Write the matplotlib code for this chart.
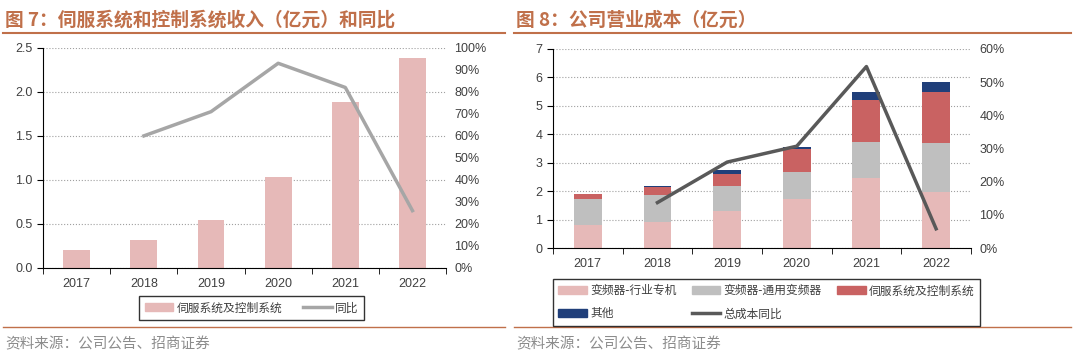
import matplotlib
matplotlib.use("Agg")
import matplotlib.pyplot as plt
from matplotlib.lines import Line2D

plt.rcParams['font.family'] = ['Liberation Sans', 'Noto Sans CJK SC', 'DejaVu Sans']

# ---- data ----
years = ['2017', '2018', '2019', '2020', '2021', '2022']

# 图7 伺服系统及控制系统收入 (亿元) and 同比
servo_rev = [0.20, 0.32, 0.54, 1.03, 1.88, 2.38]
servo_yoy = [None, 60, 71, 93, 82, 26]

# 图8 公司营业成本 (亿元)
cost_industry = [0.82, 0.90, 1.30, 1.73, 2.48, 1.98]
cost_general = [0.90, 0.98, 0.89, 0.93, 1.26, 1.71]
cost_servo = [0.19, 0.26, 0.42, 0.81, 1.47, 1.81]
cost_other = [0.0, 0.04, 0.14, 0.10, 0.28, 0.33]
cost_yoy = [None, 13.7, 25.9, 30.7, 54.7, 5.8]

title_color = '#C0704A'
cjk = ['Noto Sans CJK SC', 'DejaVu Sans']

fig = plt.figure(figsize=(10.8, 3.6), dpi=100)
fig.patch.set_facecolor('white')


def style_axes(ax, ax2, ymax, pmax, pstep):
    ax.set_xlim(-0.5, len(years) - 0.5)
    ax.set_ylim(0, ymax)
    ax.set_xticks(range(len(years)))
    ax.set_xticklabels(years, fontsize=9, color='#404040')
    ax.set_xticks([i - 0.5 for i in range(len(years) + 1)], minor=True)
    ax.tick_params(axis='x', which='major', length=0, pad=7)
    ax.tick_params(axis='x', which='minor', length=4, direction='out', color='black')
    ax.tick_params(axis='y', length=4, direction='out', labelsize=9, labelcolor='#404040')
    ax.yaxis.grid(True, linestyle=':', color='#A0A0A0', linewidth=0.8)
    ax.set_axisbelow(True)
    for s in ['top', 'right']:
        ax.spines[s].set_visible(False)
    ax2.set_ylim(0, pmax)
    ax2.set_yticks(range(0, pmax + 1, pstep))
    ax2.set_yticklabels([f'{v}%' for v in range(0, pmax + 1, pstep)])
    ax2.tick_params(axis='y', length=0, labelsize=9, labelcolor='#404040', pad=6)
    for s in ['top', 'right', 'left', 'bottom']:
        ax2.spines[s].set_visible(False)


# ---- left chart ----
ax1 = fig.add_axes([0.040, 0.256, 0.373, 0.611])
x = list(range(len(years)))
ax1.bar(x, servo_rev, width=0.4, color='#E6B9B8', zorder=2)
ax1.set_yticks([0, 0.5, 1.0, 1.5, 2.0, 2.5])
ax1.set_yticklabels(['0.0', '0.5', '1.0', '1.5', '2.0', '2.5'])
ax1b = ax1.twinx()
style_axes(ax1, ax1b, 2.5, 100, 10)
ax1b.plot(x[1:], servo_yoy[1:], color='#A6A6A6', linewidth=2.5)

h1 = [plt.Rectangle((0, 0), 1, 1, color='#E6B9B8'),
      Line2D([0], [0], color='#A6A6A6', linewidth=2.5)]
leg1 = fig.legend(h1, ['伺服系统及控制系统', '同比'], loc='center',
                  bbox_to_anchor=(0.233, 0.145), ncol=2, frameon=True, fancybox=False,
                  edgecolor='black', prop={'family': cjk, 'size': 8.5},
                  handlelength=2.4, handleheight=0.6, handletextpad=0.3,
                  columnspacing=1.8, borderpad=0.45)
leg1.get_frame().set_linewidth(1.0)
for t in leg1.get_texts():
    t.set_color('#404040')

# ---- right chart ----
ax2 = fig.add_axes([0.512, 0.311, 0.387, 0.553])
ax2.bar(x, cost_industry, width=0.4, color='#E6B9B8', zorder=2)
bottom = cost_industry[:]
ax2.bar(x, cost_general, width=0.4, bottom=bottom, color='#BFBFBF', zorder=2)
bottom = [a + b for a, b in zip(bottom, cost_general)]
ax2.bar(x, cost_servo, width=0.4, bottom=bottom, color='#C96262', zorder=2)
bottom = [a + b for a, b in zip(bottom, cost_servo)]
ax2.bar(x, cost_other, width=0.4, bottom=bottom, color='#203F7A', zorder=2)
ax2.set_yticks(range(0, 8))
ax2b = ax2.twinx()
style_axes(ax2, ax2b, 7, 60, 10)
ax2b.plot(x[1:], cost_yoy[1:], color='#595959', linewidth=2.5)

h2 = [plt.Rectangle((0, 0), 1, 1, color='#E6B9B8'),
      plt.Rectangle((0, 0), 1, 1, color='#BFBFBF'),
      plt.Rectangle((0, 0), 1, 1, color='#C96262'),
      plt.Rectangle((0, 0), 1, 1, color='#203F7A'),
      Line2D([0], [0], color='#595959', linewidth=2.5)]
labels2 = ['变频器-行业专机', '变频器-通用变频器', '伺服系统及控制系统', '其他', '总成本同比']
# reorder so legend fills row by row with ncol=3
order = [0, 3, 1, 4, 2]
leg2 = fig.legend([h2[i] for i in order], [labels2[i] for i in order], loc='upper left',
                  bbox_to_anchor=(0.512, 0.225), ncol=3, frameon=True, fancybox=False,
                  edgecolor='black', prop={'family': cjk, 'size': 8.5},
                  handlelength=2.4, handleheight=0.6, handletextpad=0.3,
                  columnspacing=1.3, borderpad=0.45, labelspacing=0.85,
                  borderaxespad=0)
leg2.get_frame().set_linewidth(1.0)
for t in leg2.get_texts():
    t.set_color('#404040')

# ---- titles, rules, sources ----
fig.text(0.005, 0.945, '图 7：伺服系统和控制系统收入（亿元）和同比', family=cjk,
         fontsize=13.5, fontweight='bold', color=title_color, va='center')
fig.text(0.478, 0.945, '图 8：公司营业成本（亿元）', family=cjk,
         fontsize=13.5, fontweight='bold', color=title_color, va='center')
fig.add_artist(Line2D([0.003, 0.468], [0.908, 0.908], color=title_color, linewidth=1.5))
fig.add_artist(Line2D([0.476, 0.992], [0.908, 0.908], color=title_color, linewidth=1.5))
fig.add_artist(Line2D([0.003, 0.468], [0.092, 0.092], color=title_color, linewidth=1.0))
fig.add_artist(Line2D([0.476, 0.992], [0.092, 0.092], color=title_color, linewidth=1.0))
fig.text(0.005, 0.045, '资料来源：公司公告、招商证券', family=cjk, fontsize=10.5,
         color='#8C8C8C', va='center')
fig.text(0.478, 0.045, '资料来源：公司公告、招商证券', family=cjk, fontsize=10.5,
         color='#8C8C8C', va='center')

fig.savefig('out.png', dpi=100)
